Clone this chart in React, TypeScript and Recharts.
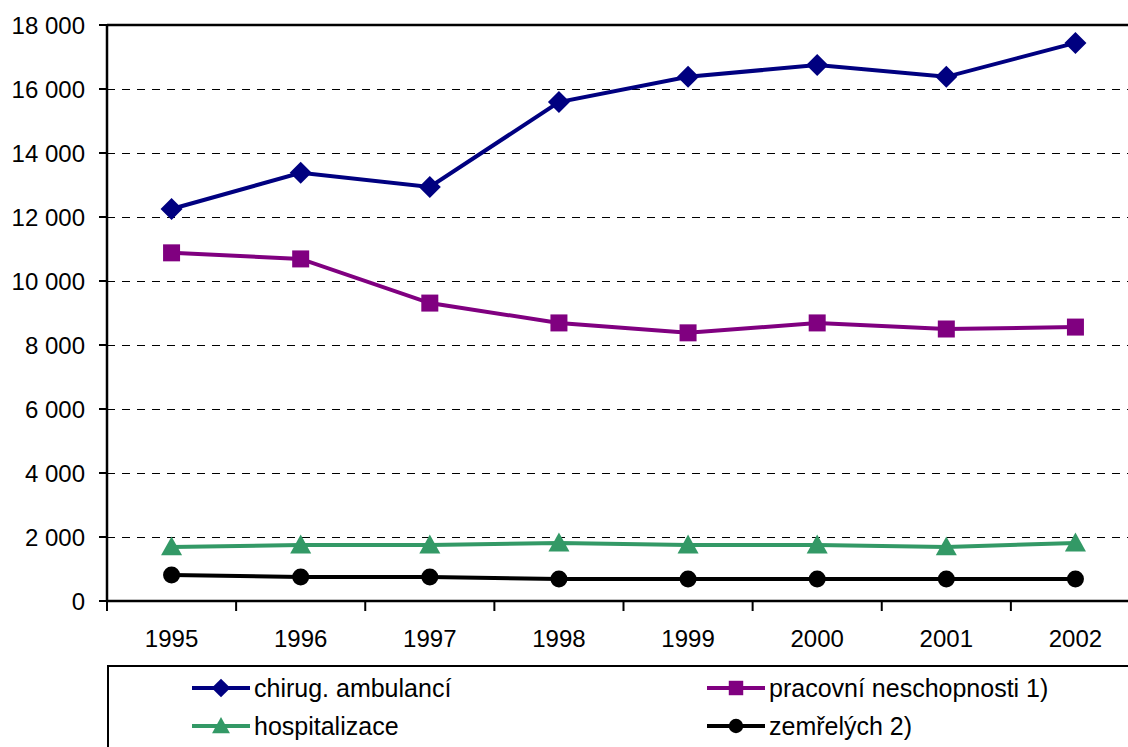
import React from "react";
import {
  CartesianGrid,
  Line,
  LineChart,
  ReferenceLine,
  XAxis,
  YAxis,
} from "recharts";

const years = ["1995", "1996", "1997", "1998", "1999", "2000", "2001", "2002"];
const chirug = [12250, 13380, 12940, 15590, 16380, 16750, 16380, 17440];
const pracovni = [10880, 10690, 9310, 8690, 8380, 8690, 8500, 8560];
const hospitalizace = [1690, 1750, 1750, 1810, 1750, 1750, 1690, 1810];
const zemrelych = [810, 750, 750, 690, 690, 690, 690, 690];
const yTicks = [0, 2000, 4000, 6000, 8000, 10000, 12000, 14000, 16000, 18000];
const boundTicks = [0, 1, 2, 3, 4, 5, 6, 7, 8];

const data = years.map((y, i) => ({
  year: y,
  slot: i,
  chirug: chirug[i],
  pracovni: pracovni[i],
  hospitalizace: hospitalizace[i],
  zemrelych: zemrelych[i],
}));

const FONT = "'Liberation Sans', Arial, sans-serif";
const NAVY = "#000080";
const PURPLE = "#800080";
const GREEN = "#339966";
const BLACK = "#000000";

const fmt = (v: number) => String(v).replace(/\B(?=(\d{3})+(?!\d))/g, " ");

function Marker({ kind, cx, cy, color, s = 1 }: { kind: string; cx: number; cy: number; color: string; s?: number }) {
  if (kind === "diamond") {
    const r = 11 * s;
    return <path d={`M${cx},${cy - r}L${cx + r},${cy}L${cx},${cy + r}L${cx - r},${cy}Z`} fill={color} />;
  }
  if (kind === "square") {
    const r = 8.5 * s;
    return <rect x={cx - r} y={cy - r} width={2 * r} height={2 * r} fill={color} />;
  }
  if (kind === "triangle") {
    const r = 10.5 * s;
    return <path d={`M${cx},${cy - r}L${cx + r},${cy + r * 0.8}L${cx - r},${cy + r * 0.8}Z`} fill={color} />;
  }
  return <circle cx={cx} cy={cy} r={8.5 * s} fill={color} />;
}

const dotFor = (kind: string, color: string) => (props: any) => (
  <g key={`${kind}-${props.index}`}>
    <Marker kind={kind} cx={props.cx} cy={props.cy} color={color} />
  </g>
);

const legendItems = [
  { label: "chirug. ambulancí", kind: "diamond", color: NAVY, x: 83, y: 6 },
  { label: "pracovní neschopnosti 1)", kind: "square", color: PURPLE, x: 598, y: 6 },
  { label: "hospitalizace", kind: "triangle", color: GREEN, x: 83, y: 44 },
  { label: "zemřelých 2)", kind: "circle", color: BLACK, x: 598, y: 44 },
];

export default function App() {
  return (
    <div style={{ position: "absolute", left: 0, top: 0, width: 1128, height: 747, overflow: "hidden", background: "#fff", fontFamily: FONT }}>
      <LineChart width={1160} height={747} data={data} margin={{ top: 25, right: 20, left: 0, bottom: 144 }}>
        <CartesianGrid vertical={false} horizontal stroke="#000" strokeDasharray="8 7" strokeWidth={1} shapeRendering="crispEdges" />
        <XAxis
          dataKey="year"
          scale="band"
          tickLine={false}
          tickSize={0}
          tickMargin={29}
          axisLine={{ stroke: "#000", strokeWidth: 2.5 }}
          tick={{ fill: "#000", fontSize: 24, fontFamily: FONT }}
          height={1}
          interval={0}
        />
        <XAxis
          xAxisId="bounds"
          dataKey="slot"
          type="number"
          domain={[0, 8]}
          ticks={boundTicks}
          tickFormatter={() => ""}
          axisLine={false}
          tickLine={{ stroke: "#000", strokeWidth: 2 }}
          tickSize={9}
          height={1}
          interval={0}
          allowDataOverflow
        />
        <YAxis
          domain={[0, 18000]}
          ticks={yTicks}
          width={107}
          tickSize={8}
          tickMargin={14}
          tickFormatter={fmt}
          axisLine={{ stroke: "#000", strokeWidth: 2.5 }}
          tickLine={{ stroke: "#000", strokeWidth: 2 }}
          tick={{ fill: "#000", fontSize: 24, fontFamily: FONT }}
          interval={0}
        />
        <ReferenceLine y={18000} stroke="#000" strokeWidth={2.5} ifOverflow="visible" />
        <Line dataKey="chirug" stroke={NAVY} strokeWidth={4} dot={dotFor("diamond", NAVY)} isAnimationActive={false} />
        <Line dataKey="pracovni" stroke={PURPLE} strokeWidth={4} dot={dotFor("square", PURPLE)} isAnimationActive={false} />
        <Line dataKey="hospitalizace" stroke={GREEN} strokeWidth={4} dot={dotFor("triangle", GREEN)} isAnimationActive={false} />
        <Line dataKey="zemrelych" stroke={BLACK} strokeWidth={4} dot={dotFor("circle", BLACK)} isAnimationActive={false} />
      </LineChart>
      <div style={{ position: "absolute", left: 107, top: 665, width: 1100, height: 120, border: "2px solid #000", boxSizing: "border-box" }}>
        {legendItems.map((it) => (
          <div key={it.label} style={{ position: "absolute", left: it.x, top: it.y, height: 30, display: "flex", alignItems: "center" }}>
            <svg width={58} height={30}>
              <line x1={0} y1={15} x2={58} y2={15} stroke={it.color} strokeWidth={4} />
              <Marker kind={it.kind} cx={29} cy={15} color={it.color} s={0.85} />
            </svg>
            <span style={{ fontSize: 25, color: "#000", marginLeft: 4, whiteSpace: "nowrap" }}>{it.label}</span>
          </div>
        ))}
      </div>
    </div>
  );
}
